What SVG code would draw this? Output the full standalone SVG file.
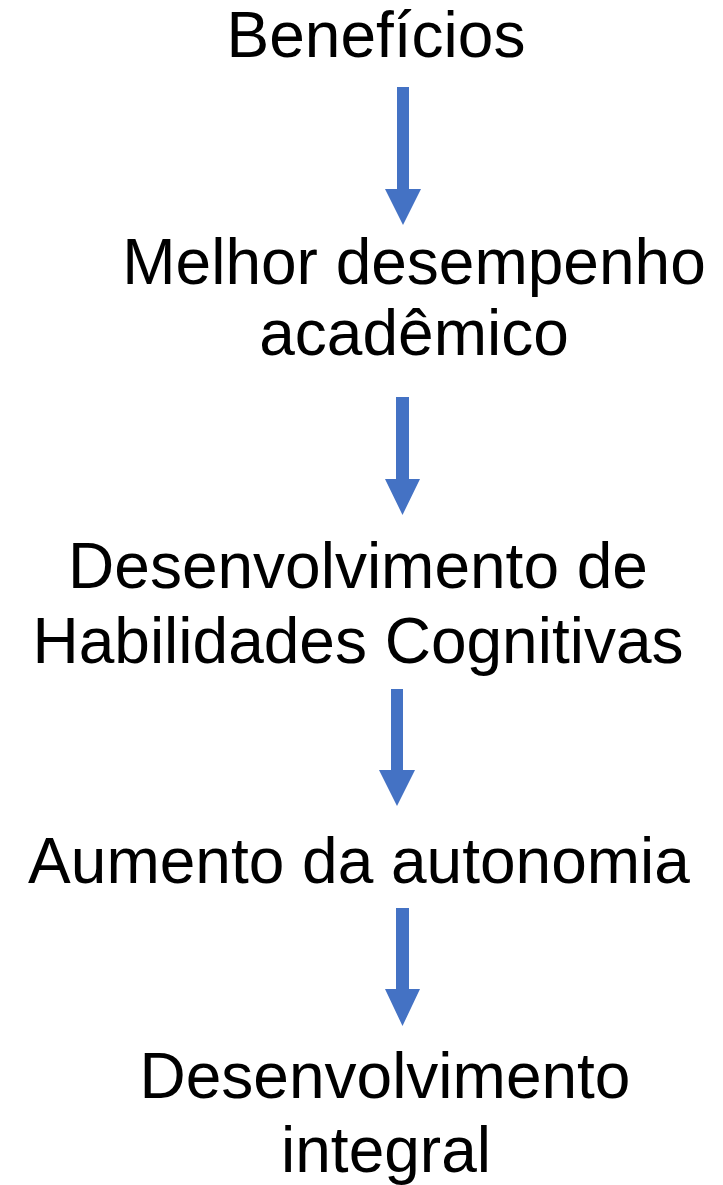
<svg xmlns="http://www.w3.org/2000/svg" width="723" height="1185" viewBox="0 0 723 1185">
<style>
text{font-family:"Liberation Sans",Arial,sans-serif;font-size:64px;fill:#000;text-anchor:middle}
.arrow{fill:#4472C4}
</style>
<rect width="723" height="1185" fill="#fff"/>
<g id="n1"><text x="376" y="57">Benefícios</text></g>
<g id="n2"><text x="414" y="284">Melhor desempenho</text><text x="414" y="355">acadêmico</text></g>
<g id="n3"><text x="358" y="588">Desenvolvimento de</text><text x="358" y="663">Habilidades Cognitivas</text></g>
<g id="n4"><text x="359" y="883">Aumento da autonomia</text></g>
<g id="n5"><text x="385" y="1098">Desenvolvimento</text><text x="386" y="1172">integral</text></g>
<g id="connectors">
<polygon class="arrow" points="397,87 409,87 409,189 421,189 403,225 385,189 397,189"/>
<polygon class="arrow" points="396,397 409,397 409,479 420,479 402.5,515 385,479 396,479"/>
<polygon class="arrow" points="391,689 403,689 403,770 415,770 397,806 379,770 391,770"/>
<polygon class="arrow" points="396,908 409,908 409,989 420,989 402.5,1026 385,989 396,989"/>
</g>
</svg>
